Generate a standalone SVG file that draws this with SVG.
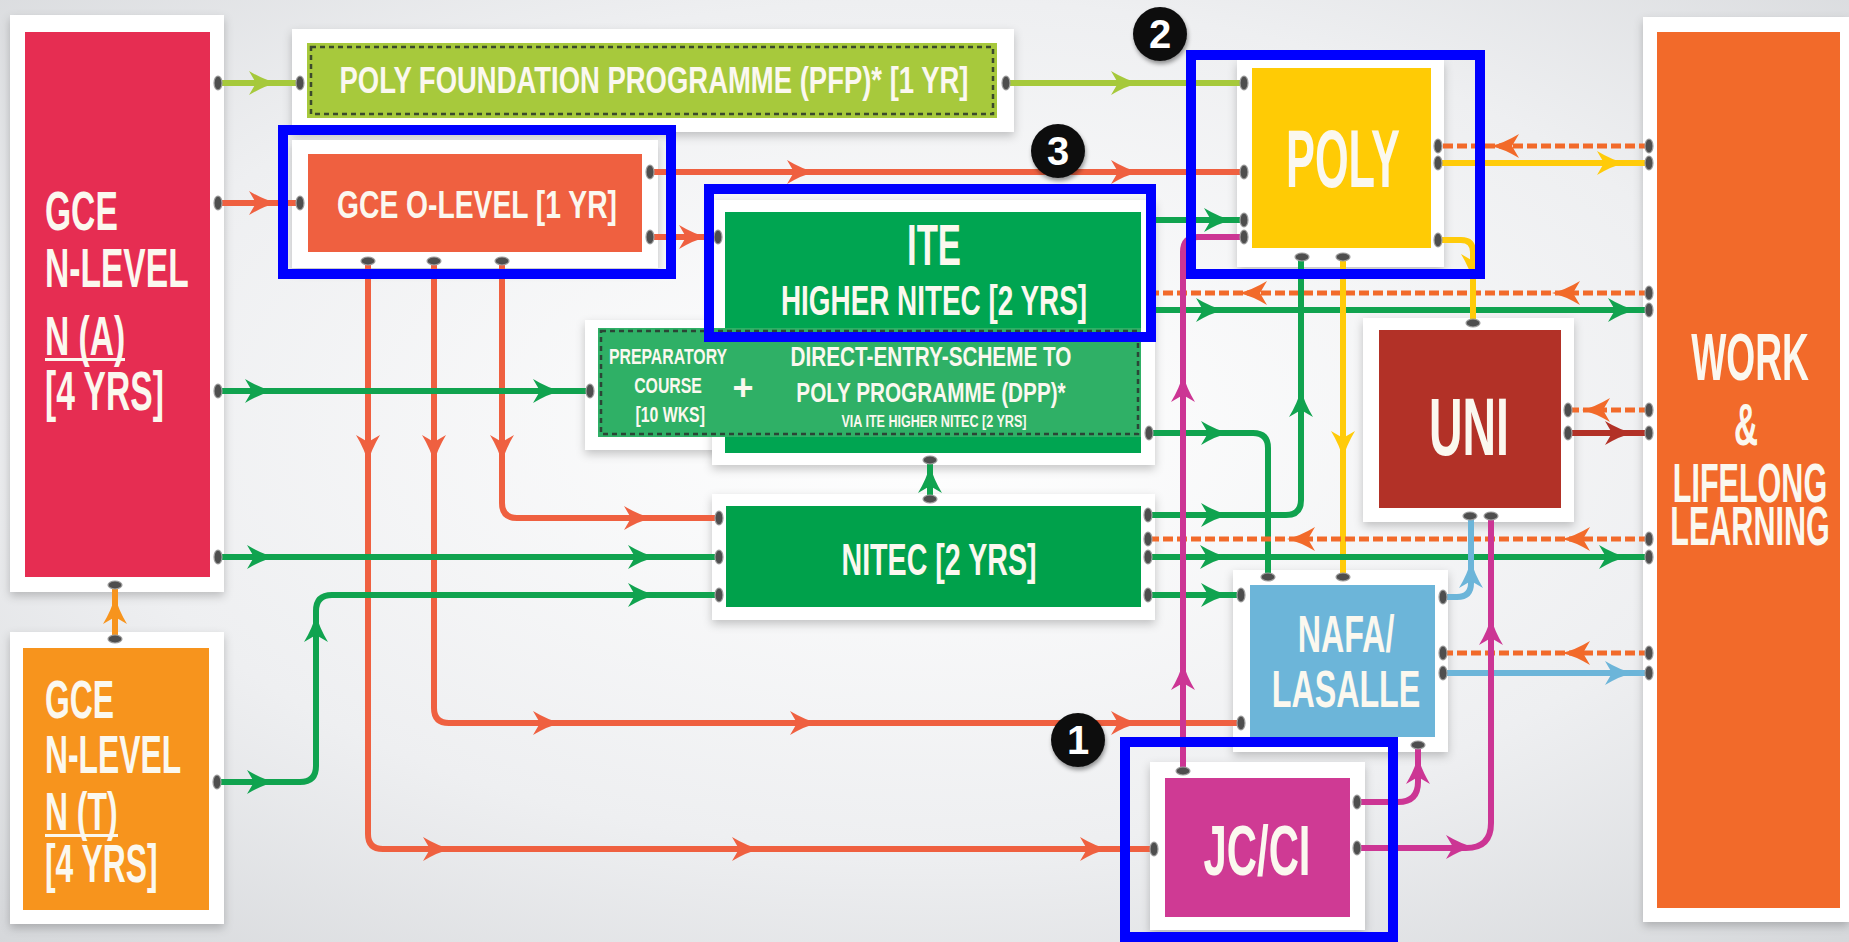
<svg xmlns="http://www.w3.org/2000/svg" width="1849" height="942" viewBox="0 0 1849 942">
<defs>
<radialGradient id="bg" cx="50%" cy="45%" r="75%">
<stop offset="0" stop-color="#ffffff"/><stop offset="0.6" stop-color="#eeeff1"/><stop offset="1" stop-color="#d5d7da"/>
</radialGradient>
<filter id="sh" x="-10%" y="-10%" width="120%" height="125%">
<feDropShadow dx="0" dy="4" stdDeviation="5" flood-color="#000" flood-opacity="0.22"/>
</filter>
<filter id="bsh" x="-30%" y="-30%" width="160%" height="160%">
<feDropShadow dx="1" dy="3" stdDeviation="2" flood-color="#000" flood-opacity="0.4"/>
</filter>
<path id="ah" d="M16,0 Q3,-3 -12,-12 L-5,0 L-12,12 Q3,3 16,0 Z"/>
</defs>
<style>
.card{fill:#fff;filter:url(#sh)}
.t{font-family:"Liberation Sans",Arial,sans-serif;font-weight:bold;fill:#FBF8EF}
.m{text-anchor:middle}
.ln{fill:none;stroke-width:6;stroke-linejoin:round}
.dash{stroke-dasharray:10 4;stroke-width:5}
.dot{fill:#4e4e4e;stroke:#a0a0a0;stroke-width:1.2}
.hl{fill:none;stroke:#0000FF;stroke-width:10}
.bd{fill:#0b0b0b;filter:url(#bsh)}
.bt{font-family:"Liberation Sans",Arial,sans-serif;font-weight:bold;font-size:40px;fill:#fff;text-anchor:middle}
.sLG{stroke:#A6C93B}.fLG{fill:#A6C93B}
.sR{stroke:#EF6040}.fR{fill:#EF6040}
.sG{stroke:#10A34F}.fG{fill:#10A34F}
.sY{stroke:#FFCB0A}.fY{fill:#FFCB0A}
.sM{stroke:#CC3594}.fM{fill:#CC3594}
.sB{stroke:#6CB5D9}.fB{fill:#6CB5D9}
.sDR{stroke:#B23127}.fDR{fill:#B23127}
.sO{stroke:#F7941D}.fO{fill:#F7941D}
.sD{stroke:#F26A2A}.fD{fill:#F26A2A}
</style>
<rect x="0" y="0" width="1849" height="942" fill="url(#bg)"/>

<g id="n-gce-na">
<rect class="card" x="10" y="15" width="214" height="577"/>
<rect x="25" y="32" width="185" height="545" fill="#E62D52"/>
<text class="t" font-size="56" transform="translate(45 0) scale(0.6 1)"><tspan x="0" y="230">GCE</tspan><tspan x="0" y="287">N-LEVEL</tspan><tspan x="0" y="355">N (A)</tspan><tspan x="0" y="410">[4 YRS]</tspan></text>
<rect x="45" y="358" width="80" height="3" fill="#FBF8EF"/>
</g>

<g id="n-gce-nt">
<rect class="card" x="10" y="632" width="214" height="292"/>
<rect x="23" y="648" width="186" height="262" fill="#F7941D"/>
<text class="t" font-size="54" transform="translate(45 0) scale(0.59 1)"><tspan x="0" y="718">GCE</tspan><tspan x="0" y="773">N-LEVEL</tspan><tspan x="0" y="830">N (T)</tspan><tspan x="0" y="882">[4 YRS]</tspan></text>
<rect x="45" y="834" width="73" height="3" fill="#FBF8EF"/>
</g>

<g id="n-pfp">
<rect class="card" x="292" y="29" width="722" height="103"/>
<rect x="307" y="43" width="690" height="75" fill="#A7C93C"/>
<rect x="311" y="47" width="682" height="67" fill="none" stroke="#3b4a2c" stroke-width="2.5" stroke-dasharray="5 4"/>
<text class="t m" x="654" y="93" font-size="36" textLength="629" lengthAdjust="spacingAndGlyphs">POLY FOUNDATION PROGRAMME (PFP)* [1 YR]</text>
</g>

<g id="n-olevel">
<rect class="card" x="292" y="140" width="366" height="128"/>
<rect x="308" y="154" width="334" height="98" fill="#EF6040"/>
<text class="t m" x="477" y="218" font-size="39" textLength="280" lengthAdjust="spacingAndGlyphs">GCE O-LEVEL [1 YR]</text>
</g>

<g id="n-dpp">
<rect class="card" x="585" y="320" width="160" height="130"/>
</g>

<g id="n-ite">
<rect class="card" x="712" y="200" width="443" height="265"/>
<rect x="725" y="212" width="416" height="241" fill="#00A551"/>
<text class="t m" x="934" y="265" font-size="58" textLength="54" lengthAdjust="spacingAndGlyphs">ITE</text>
<text class="t m" x="934" y="315" font-size="42" textLength="306" lengthAdjust="spacingAndGlyphs">HIGHER NITEC [2 YRS]</text>
</g>

<g id="n-dpp-box">
<rect x="598" y="328" width="543" height="109" fill="#2FB066"/>
<rect x="601" y="331" width="537" height="103" fill="none" stroke="#2b4536" stroke-width="2.5" stroke-dasharray="5 4"/>
<text class="t m" font-size="22" transform="translate(668 0) scale(0.72 1)"><tspan x="0" y="364">PREPARATORY</tspan><tspan x="0" y="393">COURSE</tspan><tspan x="3" y="422">[10 WKS]</tspan></text>
<text class="t m" x="743" y="400" font-size="36">+</text>
<text class="t m" font-size="28" transform="translate(931 0) scale(0.74 1)"><tspan x="0" y="366">DIRECT-ENTRY-SCHEME TO</tspan><tspan x="0" y="402">POLY PROGRAMME (DPP)*</tspan><tspan x="4" y="427" font-size="17">VIA ITE HIGHER NITEC [2 YRS]</tspan></text>
</g>

<g id="n-nitec">
<rect class="card" x="712" y="494" width="443" height="126"/>
<rect x="726" y="506" width="415" height="101" fill="#00A14B"/>
<text class="t m" x="939" y="575" font-size="45" textLength="195" lengthAdjust="spacingAndGlyphs">NITEC [2 YRS]</text>
</g>

<g id="n-poly">
<rect class="card" x="1237" y="60" width="207" height="207"/>
<rect x="1252" y="68" width="179" height="180" fill="#FFCB05"/>
<text class="t m" x="1343" y="187" font-size="82" textLength="114" lengthAdjust="spacingAndGlyphs">POLY</text>
</g>

<g id="n-uni">
<rect class="card" x="1363" y="318" width="211" height="204"/>
<rect x="1379" y="330" width="182" height="178" fill="#B23127"/>
<text class="t m" x="1469" y="455" font-size="81" textLength="80" lengthAdjust="spacingAndGlyphs">UNI</text>
</g>

<g id="n-nafa">
<rect class="card" x="1233" y="570" width="215" height="182"/>
<rect x="1250" y="585" width="185" height="152" fill="#6CB5D9"/>
<text class="t m" font-size="52" transform="translate(1346 0) scale(0.62 1)"><tspan x="0" y="652">NAFA/</tspan><tspan x="0" y="707">LASALLE</tspan></text>
</g>

<g id="n-jc">
<rect class="card" x="1150" y="762" width="215" height="168"/>
<rect x="1165" y="778" width="185" height="139" fill="#CF3A94"/>
<text class="t m" x="1257" y="875" font-size="70" textLength="107" lengthAdjust="spacingAndGlyphs">JC/CI</text>
</g>

<g id="n-work">
<rect class="card" x="1643" y="17" width="206" height="905"/>
<rect x="1657" y="32" width="183" height="876" fill="#F26A2A"/>
<text class="t m" font-size="55" transform="translate(1750 0) scale(0.555 1)"><tspan x="0" y="380" font-size="67">WORK</tspan><tspan x="-7" y="445" font-size="60">&amp;</tspan><tspan x="0" y="502">LIFELONG</tspan><tspan x="0" y="545">LEARNING</tspan></text>
</g>

<g id="connectors">
<path class="ln sLG" d="M218 83 H300"/>
<path class="ln sLG" d="M1006 83 H1244"/>
<path class="ln sR" d="M218 203 H300"/>
<path class="ln sR" d="M650 172 H1244"/>
<path class="ln sR" d="M650 237 H718"/>
<path class="ln sR" d="M368 261 V834 Q368 849 383 849 H1154"/>
<path class="ln sR" d="M434 261 V708 Q434 723 449 723 H1241"/>
<path class="ln sR" d="M502 261 V503 Q502 518 517 518 H719"/>
<path class="ln sG" d="M218 391 H590"/>
<path class="ln sG" d="M218 557 H719"/>
<path class="ln sG" d="M217 782 H300 Q316 782 316 766 V611 Q316 595 332 595 H719"/>
<path class="ln sO" d="M115 639 V585"/>
<path class="ln sG" d="M1150 220 H1244"/>
<path class="ln sG" d="M1150 310 H1649"/>
<path class="ln sD dash" d="M1649 293 H1150"/>
<path class="ln sD dash" d="M1649 146 H1438"/>
<path class="ln sY" d="M1438 163 H1649"/>
<path class="ln sY" d="M1438 240 H1461 Q1473 240 1473 252 V323"/>
<path class="ln sY" d="M1343 257 V577"/>
<path class="ln sG" d="M1148 515 H1286 Q1301 515 1301 500 V257"/>
<path class="ln sG" d="M1149 433 H1253 Q1268 433 1268 448 V577"/>
<path class="ln sD dash" d="M1649 539 H1148"/>
<path class="ln sG" d="M1148 557 H1649"/>
<path class="ln sG" d="M1148 595 H1241"/>
<path class="ln sM" d="M1183 771 V252 Q1183 237 1198 237 H1244"/>
<path class="ln sD dash" d="M1649 410 H1568"/>
<path class="ln sDR" d="M1568 433 H1649"/>
<path class="ln sB" d="M1443 597 H1457 Q1471 597 1471 583 V516"/>
<path class="ln sD dash" d="M1649 653 H1443"/>
<path class="ln sB" d="M1443 673 H1649"/>
<path class="ln sM" d="M1357 802 H1398 Q1418 802 1418 782 V745"/>
<path class="ln sM" d="M1357 848 H1466 Q1491 848 1491 823 V516"/>
<path class="ln sG" d="M930 499 V460"/>
<use href="#ah" class="fLG" transform="translate(261 83)"/>
<use href="#ah" class="fLG" transform="translate(1123 83)"/>
<use href="#ah" class="fR" transform="translate(261 203)"/>
<use href="#ah" class="fR" transform="translate(799 172)"/>
<use href="#ah" class="fR" transform="translate(1123 172)"/>
<use href="#ah" class="fR" transform="translate(691 237)"/>
<use href="#ah" class="fR" transform="translate(368 447) rotate(90)"/>
<use href="#ah" class="fR" transform="translate(434 447) rotate(90)"/>
<use href="#ah" class="fR" transform="translate(502 447) rotate(90)"/>
<use href="#ah" class="fR" transform="translate(435 849)"/>
<use href="#ah" class="fR" transform="translate(744 849)"/>
<use href="#ah" class="fR" transform="translate(1092 849)"/>
<use href="#ah" class="fR" transform="translate(545 723)"/>
<use href="#ah" class="fR" transform="translate(802 723)"/>
<use href="#ah" class="fR" transform="translate(1123 723)"/>
<use href="#ah" class="fR" transform="translate(636 518)"/>
<use href="#ah" class="fG" transform="translate(257 391)"/>
<use href="#ah" class="fG" transform="translate(545 391)"/>
<use href="#ah" class="fG" transform="translate(259 557)"/>
<use href="#ah" class="fG" transform="translate(640 557)"/>
<use href="#ah" class="fG" transform="translate(259 782)"/>
<use href="#ah" class="fG" transform="translate(316 630) rotate(-90)"/>
<use href="#ah" class="fG" transform="translate(640 595)"/>
<use href="#ah" class="fO" transform="translate(115 612) rotate(-90)"/>
<use href="#ah" class="fG" transform="translate(1216 220)"/>
<use href="#ah" class="fG" transform="translate(1208 310)"/>
<use href="#ah" class="fG" transform="translate(1620 310)"/>
<use href="#ah" class="fD" transform="translate(1568 293) rotate(180)"/>
<use href="#ah" class="fD" transform="translate(1255 293) rotate(180)"/>
<use href="#ah" class="fD" transform="translate(1507 146) rotate(180)"/>
<use href="#ah" class="fY" transform="translate(1609 163)"/>
<use href="#ah" class="fY" transform="translate(1473 266) rotate(90)"/>
<use href="#ah" class="fY" transform="translate(1343 443) rotate(90)"/>
<use href="#ah" class="fG" transform="translate(1213 515)"/>
<use href="#ah" class="fG" transform="translate(1301 405) rotate(-90)"/>
<use href="#ah" class="fG" transform="translate(1213 433)"/>
<use href="#ah" class="fD" transform="translate(1578 539) rotate(180)"/>
<use href="#ah" class="fD" transform="translate(1303 539) rotate(180)"/>
<use href="#ah" class="fG" transform="translate(1212 557)"/>
<use href="#ah" class="fG" transform="translate(1611 557)"/>
<use href="#ah" class="fG" transform="translate(1213 595)"/>
<use href="#ah" class="fM" transform="translate(1183 678) rotate(-90)"/>
<use href="#ah" class="fM" transform="translate(1183 390) rotate(-90)"/>
<use href="#ah" class="fD" transform="translate(1598 410) rotate(180)"/>
<use href="#ah" class="fDR" transform="translate(1617 433)"/>
<use href="#ah" class="fB" transform="translate(1471 576) rotate(-90)"/>
<use href="#ah" class="fD" transform="translate(1578 653) rotate(180)"/>
<use href="#ah" class="fB" transform="translate(1617 673)"/>
<use href="#ah" class="fM" transform="translate(1418 772) rotate(-90)"/>
<use href="#ah" class="fM" transform="translate(1458 847)"/>
<use href="#ah" class="fM" transform="translate(1491 633) rotate(-90)"/>
<use href="#ah" class="fG" transform="translate(930 481) rotate(-90)"/>
<g class="dot">
<ellipse cx="218" cy="83" rx="4" ry="7"/><ellipse cx="218" cy="203" rx="4" ry="7"/><ellipse cx="218" cy="391" rx="4" ry="7"/><ellipse cx="218" cy="557" rx="4" ry="7"/>
<ellipse cx="217" cy="782" rx="4" ry="7"/>
<ellipse cx="300" cy="83" rx="4" ry="7"/><ellipse cx="1006" cy="83" rx="4" ry="7"/>
<ellipse cx="300" cy="203" rx="4" ry="7"/><ellipse cx="650" cy="172" rx="4" ry="7"/><ellipse cx="650" cy="237" rx="4" ry="7"/>
<ellipse cx="718" cy="237" rx="4" ry="7"/><ellipse cx="590" cy="391" rx="4" ry="7"/><ellipse cx="1149" cy="433" rx="4" ry="7"/>
<ellipse cx="719" cy="518" rx="4" ry="7"/><ellipse cx="719" cy="557" rx="4" ry="7"/><ellipse cx="719" cy="595" rx="4" ry="7"/>
<ellipse cx="1148" cy="515" rx="4" ry="7"/><ellipse cx="1148" cy="539" rx="4" ry="7"/><ellipse cx="1148" cy="557" rx="4" ry="7"/><ellipse cx="1148" cy="595" rx="4" ry="7"/>
<ellipse cx="1244" cy="83" rx="4" ry="7"/><ellipse cx="1244" cy="172" rx="4" ry="7"/><ellipse cx="1244" cy="220" rx="4" ry="7"/><ellipse cx="1244" cy="237" rx="4" ry="7"/>
<ellipse cx="1438" cy="146" rx="4" ry="7"/><ellipse cx="1438" cy="163" rx="4" ry="7"/><ellipse cx="1438" cy="240" rx="4" ry="7"/>
<ellipse cx="1568" cy="410" rx="4" ry="7"/><ellipse cx="1568" cy="433" rx="4" ry="7"/>
<ellipse cx="1241" cy="595" rx="4" ry="7"/><ellipse cx="1241" cy="723" rx="4" ry="7"/>
<ellipse cx="1443" cy="597" rx="4" ry="7"/><ellipse cx="1443" cy="653" rx="4" ry="7"/><ellipse cx="1443" cy="673" rx="4" ry="7"/>
<ellipse cx="1154" cy="849" rx="4" ry="7"/><ellipse cx="1357" cy="802" rx="4" ry="7"/><ellipse cx="1357" cy="848" rx="4" ry="7"/>
<ellipse cx="1649" cy="146" rx="4" ry="7"/><ellipse cx="1649" cy="163" rx="4" ry="7"/><ellipse cx="1649" cy="293" rx="4" ry="7"/><ellipse cx="1649" cy="310" rx="4" ry="7"/>
<ellipse cx="1649" cy="410" rx="4" ry="7"/><ellipse cx="1649" cy="433" rx="4" ry="7"/><ellipse cx="1649" cy="539" rx="4" ry="7"/><ellipse cx="1649" cy="557" rx="4" ry="7"/>
<ellipse cx="1649" cy="653" rx="4" ry="7"/><ellipse cx="1649" cy="673" rx="4" ry="7"/>
<ellipse cx="115" cy="585" rx="7" ry="4"/><ellipse cx="115" cy="639" rx="7" ry="4"/>
<ellipse cx="368" cy="261" rx="7" ry="4"/><ellipse cx="434" cy="261" rx="7" ry="4"/><ellipse cx="502" cy="261" rx="7" ry="4"/>
<ellipse cx="930" cy="460" rx="7" ry="4"/><ellipse cx="930" cy="499" rx="7" ry="4"/>
<ellipse cx="1302" cy="257" rx="7" ry="4"/><ellipse cx="1343" cy="257" rx="7" ry="4"/>
<ellipse cx="1473" cy="323" rx="7" ry="4"/><ellipse cx="1470" cy="516" rx="7" ry="4"/><ellipse cx="1491" cy="516" rx="7" ry="4"/>
<ellipse cx="1268" cy="577" rx="7" ry="4"/><ellipse cx="1343" cy="577" rx="7" ry="4"/><ellipse cx="1418" cy="745" rx="7" ry="4"/>
<ellipse cx="1183" cy="771" rx="7" ry="4"/>
</g>
</g>

<g id="highlights">
<rect class="hl" x="283" y="130" width="388" height="144"/>
<rect class="hl" x="709" y="189" width="442" height="148"/>
<rect class="hl" x="1191" y="55" width="289" height="219"/>
<rect class="hl" x="1125" y="742" width="268" height="195"/>
</g>

<g id="badge-1"><circle class="bd" cx="1078" cy="740" r="27"/><text class="bt" x="1078" y="754">1</text></g>
<g id="badge-2"><circle class="bd" cx="1160" cy="34" r="27"/><text class="bt" x="1160" y="48">2</text></g>
<g id="badge-3"><circle class="bd" cx="1058" cy="151" r="27"/><text class="bt" x="1058" y="165">3</text></g>
</svg>
